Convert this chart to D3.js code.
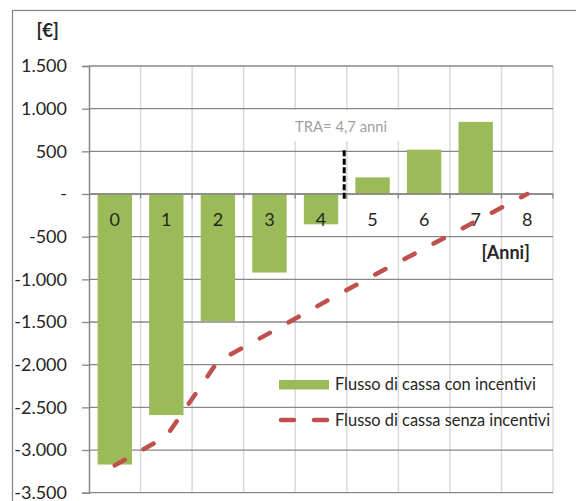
<!DOCTYPE html>
<html>
<head>
<meta charset="utf-8">
<script src="https://cdn.jsdelivr.net/npm/d3@7"></script>
<style>
  html, body { margin: 0; padding: 0; background: #fff; overflow: hidden; }
  text { font-family: Lato, "Liberation Sans", sans-serif; }
</style>
</head>
<body>
<svg id="chart" width="576" height="501"></svg>
<script>
// Years of the investment horizon
const years = ["0", "1", "2", "3", "4", "5", "6", "7", "8"];
// Cumulative cash flow with incentives (€), bars
const flowWithIncentives = [-3170, -2590, -1490, -920, -355, 195, 520, 845, null];
// Cumulative cash flow without incentives (€), dashed line
const flowWithoutIncentives = [-3180, -2840, -1960, -1630, -1290, -960, -640, -320, 0];
// Value axis ticks
const yTicks = [1500, 1000, 500, 0, -500, -1000, -1500, -2000, -2500, -3000, -3500];
const seriesNames = ["Flusso di cassa con incentivi", "Flusso di cassa senza incentivi"];
// Payback-time annotation
const paybackLabel = "TRA= 4,7 anni";
const paybackMarkerAt = 4.45;

const colors = { bar: "#9bbb59", line: "#c0504d", gridH: "#878787", gridV: "#d9d9d9", text: "#262626" };

const svg = d3.select("#chart");
const plot = { left: 89, right: 553, top: 66, bottom: 492.7 };

const x = d3.scaleBand().domain(years).range([plot.left, plot.right]).paddingInner(0).paddingOuter(0);
const bw = x.bandwidth();
const xc = d => x(d) + bw / 2;
const xYear = d3.scaleLinear().domain([0, years.length - 1]).range([xc(years[0]), xc(years[years.length - 1])]);
const y = d3.scaleLinear().domain([-3500, 1500]).range([plot.bottom, plot.top]);

const it = d3.formatLocale({ decimal: ",", thousands: ".", grouping: [3], currency: ["€", ""], minus: "-" });
const fmt = it.format(",d");
const tickFmt = v => v === 0 ? "-" : fmt(v);

// Outer chart frame
svg.append("rect")
  .attr("x", 12.5).attr("y", 10.5).attr("width", 700).attr("height", 700)
  .attr("fill", "none").attr("stroke", "#868686").attr("stroke-width", 1.25);

// Vertical gridlines at category boundaries
const vLines = years.slice(1).map(d => x(d)).concat([plot.right]);
svg.append("g").selectAll("line").data(vLines).join("line")
  .attr("x1", d => d).attr("x2", d => d)
  .attr("y1", plot.top).attr("y2", plot.bottom)
  .attr("stroke", colors.gridV).attr("stroke-width", 1.5);

// Horizontal gridlines
svg.append("g").selectAll("line").data(yTicks).join("line")
  .attr("x1", plot.left).attr("x2", plot.right)
  .attr("y1", d => y(d)).attr("y2", d => y(d))
  .attr("stroke", colors.gridH).attr("stroke-width", 1.3);

// Value axis with labels
const yAxis = svg.append("g")
  .attr("transform", `translate(${plot.left},0)`)
  .call(d3.axisLeft(y).tickValues(yTicks).tickFormat(tickFmt).tickSize(7).tickPadding(15));
yAxis.select(".domain").attr("stroke", colors.gridH).attr("stroke-width", 1.5);
yAxis.selectAll(".tick line").attr("stroke", colors.gridH).attr("stroke-width", 1.3);
yAxis.selectAll(".tick text")
  .attr("fill", colors.text).style("font-size", "18px").style("font-family", "Lato, sans-serif");

// Category axis along zero with small tick marks
const xAxis = svg.append("g").attr("transform", `translate(0,${y(0)})`);
xAxis.selectAll("line.tk").data(vLines).join("line").attr("class", "tk")
  .attr("x1", d => d).attr("x2", d => d).attr("y1", 0).attr("y2", 4.5)
  .attr("stroke", colors.gridH).attr("stroke-width", 1.3);

// Bars
const barW = bw / 1.5;
svg.append("g").selectAll("rect")
  .data(years.map((d, i) => ({ year: d, v: flowWithIncentives[i] })).filter(d => d.v !== null))
  .join("rect")
  .attr("x", d => xc(d.year) - barW / 2)
  .attr("width", barW)
  .attr("y", d => y(Math.max(0, d.v)))
  .attr("height", d => Math.abs(y(d.v) - y(0)))
  .attr("fill", colors.bar);

// Zero line drawn over the bars
svg.append("line").attr("x1", plot.left).attr("x2", plot.right)
  .attr("y1", y(0)).attr("y2", y(0)).attr("stroke", colors.gridH).attr("stroke-width", 1.3);

// Category labels
svg.append("g").selectAll("text").data(years).join("text")
  .attr("x", d => xc(d)).attr("y", y(0) + 32)
  .attr("text-anchor", "middle").attr("fill", colors.text)
  .style("font-size", "18px").text(d => d);

// Payback annotation
svg.append("rect").attr("x", 262).attr("y", 110).attr("width", 150).attr("height", 31).attr("fill", "#fff");
svg.append("text").attr("x", 295).attr("y", 131.5).attr("fill", "#a0a0a0")
  .style("font-size", "14.8px").text(paybackLabel);
svg.append("line")
  .attr("x1", xYear(paybackMarkerAt)).attr("x2", xYear(paybackMarkerAt))
  .attr("y1", y(500) - 1).attr("y2", y(0) + 6)
  .attr("stroke", "#000").attr("stroke-width", 3).attr("stroke-dasharray", "6,2.5");

// Dashed line series
const line = d3.line().x((d, i) => xc(years[i])).y(d => y(d));
svg.append("path").datum(flowWithoutIncentives)
  .attr("d", line).attr("fill", "none")
  .attr("stroke", colors.line).attr("stroke-width", 4.5)
  .attr("stroke-linecap", "round").attr("stroke-linejoin", "round")
  .attr("stroke-dasharray", "11.5,21.5");

// Axis titles
svg.append("text").attr("x", 36.5).attr("y", 37).attr("fill", colors.text)
  .style("font-size", "18.5px").style("font-weight", "bold").text("[€]");
svg.append("text").attr("x", 481.5).attr("y", 259).attr("fill", colors.text)
  .style("font-size", "18px").style("font-weight", "bold").text("[Anni]");

// Legend
const legend = svg.append("g");
legend.append("rect").attr("x", 279).attr("y", 380).attr("width", 50).attr("height", 9.5).attr("fill", colors.bar);
legend.append("line").attr("x1", 281).attr("x2", 327).attr("y1", 420).attr("y2", 420)
  .attr("stroke", colors.line).attr("stroke-width", 4.5).attr("stroke-linecap", "round")
  .attr("stroke-dasharray", "13,20");
legend.selectAll("text").data(seriesNames).join("text")
  .attr("x", 335).attr("y", (d, i) => 390 + i * 36)
  .attr("fill", colors.text).style("font-size", "16.4px").text(d => d);
</script>
</body>
</html>
